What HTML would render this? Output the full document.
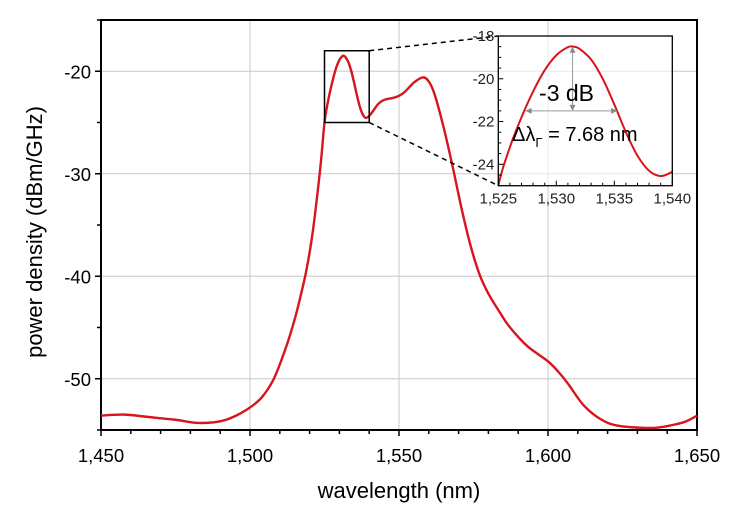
<!DOCTYPE html>
<html><head><meta charset="utf-8"><style>
html,body{margin:0;padding:0;background:#fff;}
svg{display:block;font-family:"Liberation Sans",Arial,sans-serif;}
</style></head><body>
<svg id="chart" width="732" height="516" viewBox="0 0 732 516" xmlns="http://www.w3.org/2000/svg">
<g id="grid"></g>
<g id="main"></g>
<g id="inset"></g>
<text x="399" y="498" font-size="22" text-anchor="middle">wavelength (nm)</text>
<text transform="translate(42,232) rotate(-90)" font-size="22" text-anchor="middle">power density (dBm/GHz)</text>
</svg>
<script>
const wavelengths=[1450,1458,1468,1475,1482,1488,1492,1496,1500,1504,1508,1512,1515,1517,1519,1521,1523,1524,1525,1526,1527,1528,1529,1530,1531,1531.5,1532,1533,1534,1535,1536,1537,1538,1539,1540,1541,1543,1545,1548,1550,1552,1555,1558,1560,1562,1565,1568,1571,1574,1577,1580,1584,1587,1593,1600,1604,1607,1612,1618,1624,1635,1642,1646,1650];
const powers=[-53.6,-53.5,-53.8,-54.0,-54.3,-54.25,-54.0,-53.5,-52.8,-51.8,-50.0,-47.0,-44.2,-41.9,-39.3,-35.8,-31.0,-28.2,-25.0,-23.2,-21.8,-20.6,-19.6,-18.9,-18.52,-18.5,-18.6,-19.1,-20.0,-21.2,-22.5,-23.6,-24.3,-24.55,-24.35,-24.0,-23.2,-22.8,-22.6,-22.4,-22.0,-21.1,-20.6,-21.0,-22.3,-25.5,-29.3,-33.4,-37.0,-39.8,-41.7,-43.6,-44.9,-46.8,-48.3,-49.5,-50.6,-52.6,-54.0,-54.6,-54.8,-54.5,-54.2,-53.6];
const xTicks=[1450,1500,1550,1600,1650];
const xTickLabels=["1,450","1,500","1,550","1,600","1,650"];
const yTicks=[-20,-30,-40,-50];
const yTickLabels=["-20","-30","-40","-50"];
const insetXTicks=[1525,1530,1535,1540];
const insetXTickLabels=["1,525","1,530","1,535","1,540"];
const insetYTicks=[-18,-20,-22,-24];
const insetYTickLabels=["-18","-20","-22","-24"];

const NS="http://www.w3.org/2000/svg";
function mk(p,t,a){const e=document.createElementNS(NS,t);for(const k in a)e.setAttribute(k,a[k]);p.appendChild(e);return e;}
const L=101,R=697,T=20,B=430,X0=1450,X1=1650,Y0=-55,Y1=-15;
const sx=v=>L+(v-X0)/(X1-X0)*(R-L);
const sy=v=>B-(v-Y0)/(Y1-Y0)*(B-T);
const IL=498.3,IR=672.3,IT=36,IB=185.7,IX0=1525,IX1=1540,IY0=-25,IY1=-18;
const ix=v=>IL+(v-IX0)/(IX1-IX0)*(IR-IL);
const iy=v=>IB-(v-IY0)/(IY1-IY0)*(IB-IT);
function smooth(pts){let d="M"+pts[0][0]+","+pts[0][1];for(let i=0;i<pts.length-1;i++){const p0=pts[Math.max(0,i-1)],p1=pts[i],p2=pts[i+1],p3=pts[Math.min(pts.length-1,i+2)];const c1=[p1[0]+(p2[0]-p0[0])/6,p1[1]+(p2[1]-p0[1])/6],c2=[p2[0]-(p3[0]-p1[0])/6,p2[1]-(p3[1]-p1[1])/6];d+=" C"+c1[0]+","+c1[1]+" "+c2[0]+","+c2[1]+" "+p2[0]+","+p2[1];}return d;}

const grid=document.getElementById('grid'),main=document.getElementById('main'),ins=document.getElementById('inset');
xTicks.forEach((v,i)=>{
 const g=mk(grid,'line',{x1:sx(v),x2:sx(v),y1:T,y2:B,stroke:'#c8c8c8','stroke-width':1});
 
 
 const t=mk(main,'text',{x:sx(v),y:B+32,'font-size':18.5,'text-anchor':'middle'});t.textContent=xTickLabels[i];
 
 
});
for(let v=X0;v<=X1;v+=10){const major=(v-X0)%50===0;mk(main,'line',{x1:sx(v),x2:sx(v),y1:B,y2:B+(major?6:4),stroke:'#000','stroke-width':1.5});}
yTicks.forEach((v,i)=>{
 const g=mk(grid,'line',{x1:L,x2:R,y1:sy(v),y2:sy(v),stroke:'#c8c8c8','stroke-width':1});
 
 
 const t=mk(main,'text',{x:L-10,y:sy(v)+7,'font-size':18.5,'text-anchor':'end'});t.textContent=yTickLabels[i];
 
 
});
for(let v=-55;v<=-15;v+=5){const major=v%10===0;mk(main,'line',{x1:L-(major?6:4),x2:L,y1:sy(v),y2:sy(v),stroke:'#000','stroke-width':1.5});}
const ax=mk(main,'path',{d:`M${L},${T} H${R} V${B} H${L} Z`,fill:'none',stroke:'#000','stroke-width':2});


const pts=wavelengths.map((w,i)=>[sx(w),sy(powers[i])]);
const cur=mk(main,'path',{d:smooth(pts),fill:'none',stroke:'#d8141c','stroke-width':2.4});


const bx=mk(main,'rect',{x:sx(1525),y:sy(-18),width:sx(1540)-sx(1525),height:sy(-25)-sy(-18),fill:'none',stroke:'#000','stroke-width':1.5});


mk(main,'line',{x1:sx(1540),y1:sy(-18),x2:IL,y2:IT,stroke:'#000','stroke-width':1.5,'stroke-dasharray':'5,4'});
mk(main,'line',{x1:sx(1540),y1:sy(-25),x2:IL,y2:IB,stroke:'#000','stroke-width':1.5,'stroke-dasharray':'5,4'});

mk(ins,'rect',{x:IL,y:IT,width:IR-IL,height:IB-IT,fill:'rgba(255,255,255,0.6)'});
const clip=mk(ins,'clipPath',{id:'ic'});mk(clip,'rect',{x:IL,y:IT,width:IR-IL,height:IB-IT});
const ipts=[];wavelengths.forEach((w,i)=>{if(w>=1524&&w<=1541)ipts.push([ix(w),iy(powers[i])]);});
const ic=mk(ins,'path',{d:smooth(ipts),fill:'none',stroke:'#d8141c','stroke-width':2,'clip-path':'url(#ic)'});


insetXTicks.forEach((v,i)=>{const t=mk(ins,'text',{x:ix(v),y:IB+18,'font-size':15,'text-anchor':'middle',fill:'#222'});t.textContent=insetXTickLabels[i];
 
 });
for(let v=1525;v<=1540;v+=1)mk(ins,'line',{x1:ix(v),x2:ix(v),y1:IB,y2:IB-((v%5===0)?5:3),stroke:'#000','stroke-width':1});
insetYTicks.forEach((v,i)=>{const t=mk(ins,'text',{x:IL-4,y:iy(v)+5,'font-size':15,'text-anchor':'end',fill:'#222'});t.textContent=insetYTickLabels[i];
 
 });
for(let v=-25;v<=-18;v+=0.5)mk(ins,'line',{x1:IL,x2:IL+(Number.isInteger(v/2)?5:3),y1:iy(v),y2:iy(v),stroke:'#000','stroke-width':1});
const fr=mk(ins,'rect',{x:IL,y:IT,width:IR-IL,height:IB-IT,fill:'none',stroke:'#000','stroke-width':1.3});


const pk=1531.4,half=-21.5;
mk(ins,'line',{x1:ix(pk),x2:ix(pk),y1:iy(-18.5)+2,y2:iy(half)-2,stroke:'#999','stroke-width':1});
mk(ins,'path',{d:`M${ix(pk)},${iy(-18.5)} l-3,6 h6 Z`,fill:'#888'});
mk(ins,'path',{d:`M${ix(pk)},${iy(half)} l-3,-6 h6 Z`,fill:'#888'});
mk(ins,'line',{x1:ix(1527.35),x2:ix(1535.25),y1:iy(half),y2:iy(half),stroke:'#999','stroke-width':1});
mk(ins,'path',{d:`M${ix(1527.35)},${iy(half)} l6,-3 v6 Z`,fill:'#888'});
mk(ins,'path',{d:`M${ix(1535.25)},${iy(half)} l-6,-3 v6 Z`,fill:'#888'});
const t1=mk(ins,'text',{x:ix(pk)-6,y:101,'font-size':23,'text-anchor':'middle'});t1.textContent='-3 dB';


const t2=mk(ins,'text',{x:512,y:141,'font-size':20});
t2.innerHTML='Δλ<tspan font-size="13" dy="6">Γ</tspan><tspan dy="-6"> = 7.68 nm</tspan>';


</script>
</body></html>
